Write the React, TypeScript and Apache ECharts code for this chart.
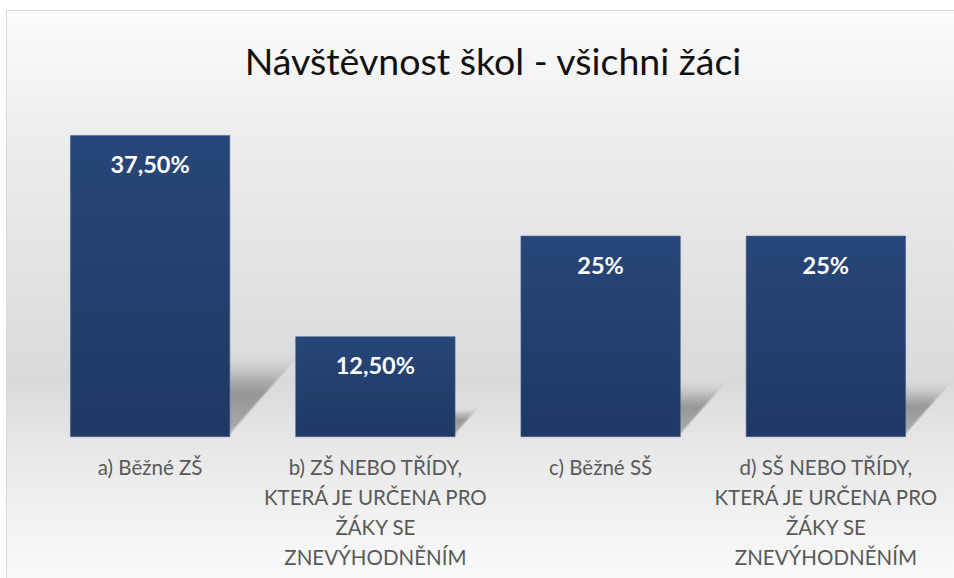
import React, { useEffect, useRef } from "react";
import * as echarts from "echarts";

const title = "Návštěvnost škol - všichni žáci";
const categories = [
  "a) Běžné ZŠ",
  "b) ZŠ NEBO TŘÍDY,\nKTERÁ JE URČENA PRO\nŽÁKY SE\nZNEVÝHODNĚNÍM",
  "c) Běžné SŠ",
  "d) SŠ NEBO TŘÍDY,\nKTERÁ JE URČENA PRO\nŽÁKY SE\nZNEVÝHODNĚNÍM",
];
const values = [37.5, 12.5, 25, 25];

function fmt(v: number): string {
  return Number.isInteger(v) ? `${v}%` : `${v.toFixed(2).replace(".", ",")}%`;
}

export default function App() {
  const ref = useRef<HTMLDivElement>(null);
  useEffect(() => {
    if (!ref.current) return;
    const chart = echarts.init(ref.current, undefined, { renderer: "svg" });
    const BAR_W = 160;
    chart.setOption({
      animation: false,
      backgroundColor: "transparent",
      title: {
        text: title,
        left: 488,
        textAlign: "center",
        top: 36,
        textStyle: {
          fontFamily: "Lato",
          fontSize: 37.5,
          fontWeight: "normal",
          color: "#111",
        },
      },
      grid: { left: 37.5, right: 15.5, top: 115, bottom: 141 },
      xAxis: {
        type: "category",
        data: categories,
        axisLine: { show: false },
        axisTick: { show: false },
        axisLabel: {
          interval: 0,
          margin: 15,
          fontFamily: "Lato",
          fontSize: 20.5,
          lineHeight: 30,
          color: "#595959",
          align: "center",
        },
      },
      yAxis: {
        type: "value",
        min: 0,
        max: 40,
        show: false,
        splitLine: { show: false },
      },
      series: [
        {
          type: "custom",
          z: 1,
          silent: true,
          data: values.map((v, i) => [i, v]),
          encode: { x: 0, y: 1 },
          renderItem: (params: any, api: any) => {
            const i = api.value(0);
            const v = api.value(1);
            const top = api.coord([i, v]);
            const base = api.coord([i, 0]);
            const h = base[1] - top[1];
            const half = BAR_W / 2;
            const layers: any[] = [];
            const N = 7;
            for (let k = 0; k < N; k++) {
              const f = 1.18 - k * 0.06;
              const sh = h * 0.24 * f;
              const d = h * 0.21 * f;
              const by = base[1] - 2 - k * 0.6;
              layers.push({
                type: "polygon",
                shape: {
                  points: [
                    [base[0] - half, by],
                    [base[0] + half, by],
                    [base[0] + half + d, by - sh],
                    [base[0] - half + d, by - sh],
                  ],
                },
                style: {
                  fill: new echarts.graphic.LinearGradient(0, 0, 0, 1, [
                    { offset: 0, color: "rgba(0,0,0,0.0)" },
                    { offset: 0.45, color: "rgba(0,0,0,0.055)" },
                    { offset: 1, color: "rgba(0,0,0,0.04)" },
                  ]),
                },
              });
            }
            return { type: "group", children: layers };
          },
        },
        {
          type: "bar",
          z: 3,
          data: values,
          barWidth: BAR_W,
          itemStyle: {
            color: new echarts.graphic.LinearGradient(0, 0, 0, 1, [
              { offset: 0, color: "#274679" },
              { offset: 1, color: "#1f3864" },
            ]),
            borderColor: "#4a6392",
            borderWidth: 0.6,
          },
          label: {
            show: true,
            position: "insideTop",
            distance: 17,
            formatter: (p: any) => fmt(p.value),
            color: "#ffffff",
            fontFamily: "Lato",
            fontWeight: "bold",
            fontSize: 23.5,
          },
        },
      ],
    });
    return () => chart.dispose();
  }, []);

  return (
    <div
      style={{
        position: "fixed",
        left: 0,
        top: 0,
        width: 954,
        height: 578,
        overflow: "hidden",
        background: "#ffffff",
      }}
    >
      <div
        style={{
          position: "absolute",
          left: 6,
          top: 10,
          width: 1000,
          height: 640,
          borderLeft: "1.5px solid #d9d9d9",
          borderTop: "1.5px solid #d9d9d9",
          background:
            "linear-gradient(to bottom, #fcfcfc 0px, #efefef 105px, #dadada 370px, #e8e8e8 440px, #fafafa 568px)",
        }}
      />
      <div
        ref={ref}
        style={{ position: "absolute", left: 0, top: 0, width: 954, height: 578 }}
      />
    </div>
  );
}
